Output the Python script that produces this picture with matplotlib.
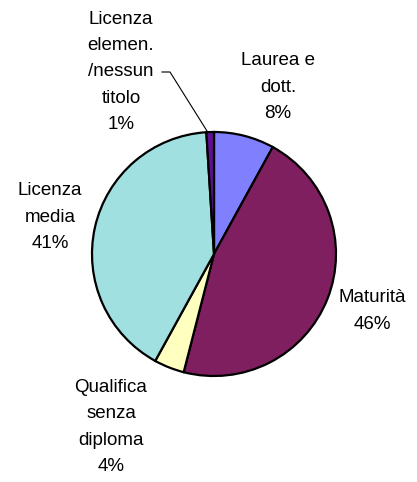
import matplotlib
matplotlib.use("Agg")
import matplotlib.pyplot as plt

categories = ["Laurea e\ndott.", "Maturità", "Qualifica\nsenza\ndiploma", "Licenza\nmedia", "Licenza\nelemen.\n/nessun\ntitolo"]
values = [8, 46, 4, 41, 1]
colors = ["#8080FF", "#7F1F5F", "#FFFFC0", "#A0E0E0", "#5F0F8F"]

W, H = 417, 482
fig = plt.figure(figsize=(W / 100, H / 100), dpi=100)
ax = fig.add_axes([0, 0, 1, 1])
cx, cy, r = 214, H - 254, 122
ax.pie(values, colors=colors, startangle=90, counterclock=False,
       center=(cx, cy), radius=r,
       wedgeprops=dict(edgecolor="black", linewidth=1.6))
ax.set_xlim(0, W)
ax.set_ylim(0, H)
ax.set_aspect("equal")
ax.axis("off")

font = dict(family=["Liberation Sans", "DejaVu Sans"], fontsize=13.5, ha="center", va="center", linespacing=1.72)
label_pos = [(278, 87), (372, 311), (111, 427), (50, 217), (121, 72)]
for cat, v, (x, y) in zip(categories, values, label_pos):
    ax.text(x, H - y, f"{cat}\n{v}%", **font)

# leader line for the small slice
ax.plot([162, 170, 207], [H - 72, H - 72, H - 131], color="black", linewidth=0.8)

fig.savefig("out.png", dpi=100)
